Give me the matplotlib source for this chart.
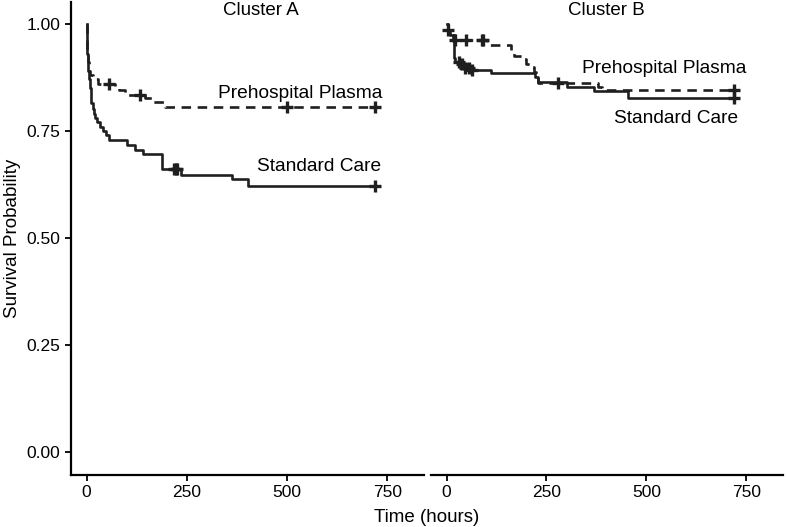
import matplotlib
matplotlib.use("Agg")
import matplotlib.pyplot as plt

plt.rcParams["font.family"] = ["Liberation Sans", "DejaVu Sans"]

# --- Cluster A ---
a_std_t = [0, 1, 2, 3, 4, 6, 8, 10, 12, 15, 18, 22, 27, 33, 40, 48, 57,
           102, 120, 140, 187, 235, 362, 402, 720]
a_std_s = [1.0, 0.96, 0.93, 0.91, 0.89, 0.87, 0.85, 0.83, 0.815, 0.80, 0.79,
           0.78, 0.77, 0.76, 0.75, 0.74, 0.729, 0.717, 0.705, 0.697, 0.66,
           0.648, 0.637, 0.622, 0.622]
a_std_cens_t = [218, 222, 226, 720]
a_std_cens_s = [0.66, 0.66, 0.66, 0.622]

a_pla_t = [0, 1, 2, 3, 5, 8, 15, 28, 70, 82, 95, 145, 162, 195, 720]
a_pla_s = [1.0, 0.96, 0.93, 0.91, 0.89, 0.88, 0.87, 0.86, 0.855, 0.845,
           0.833, 0.826, 0.817, 0.806, 0.806]
a_pla_cens_t = [57, 133, 500, 720]
a_pla_cens_s = [0.86, 0.833, 0.806, 0.806]

# --- Cluster B ---
b_std_t = [0, 3, 8, 15, 18, 22, 35, 50, 65, 110, 222, 230, 302, 370, 455, 720]
b_std_s = [1.0, 0.985, 0.975, 0.96, 0.92, 0.91, 0.905, 0.897, 0.891, 0.884,
           0.875, 0.863, 0.852, 0.843, 0.826, 0.826]
b_std_cens_t = [30, 38, 45, 55, 63, 720]
b_std_cens_s = [0.91, 0.905, 0.897, 0.897, 0.891, 0.826]

b_pla_t = [0, 3, 10, 22, 100, 160, 168, 188, 198, 210, 220, 225, 230, 378,
           390, 720]
b_pla_s = [1.0, 0.985, 0.975, 0.963, 0.951, 0.935, 0.926, 0.917, 0.907,
           0.898, 0.887, 0.875, 0.861, 0.852, 0.845, 0.845]
b_pla_cens_t = [3, 20, 48, 88, 92, 278, 720]
b_pla_cens_s = [0.985, 0.963, 0.963, 0.963, 0.963, 0.861, 0.845]

xticks = [0, 250, 500, 750]
yticks = [0.00, 0.25, 0.50, 0.75, 1.00]

LW = 1.9
DASH = (3.6, 2.5)
INK = "#1f1f1f"


def draw(ax, std, pla, std_c, pla_c):
    ax.step(std[0], std[1], where="post", color=INK, lw=LW)
    ax.step(pla[0], pla[1], where="post", color=INK, lw=LW,
            linestyle=(0, DASH))
    ax.plot(std_c[0], std_c[1], "+", color=INK, ms=8.5, mew=2.4)
    ax.plot(pla_c[0], pla_c[1], "+", color=INK, ms=8.5, mew=2.4)
    ax.set_xlim(-39, 842)
    ax.set_ylim(-0.054, 1.051)
    ax.set_xticks(xticks)
    ax.set_xticklabels([str(v) for v in xticks])
    for s in ["top", "right"]:
        ax.spines[s].set_visible(False)
    ax.spines["bottom"].set_linewidth(1.6)
    ax.spines["left"].set_linewidth(1.6)
    ax.tick_params(labelsize=12.5, length=4, width=1.3, colors="black")


fig = plt.figure(figsize=(7.86, 5.27), dpi=100)
ax1 = fig.add_axes([71 / 786, 52 / 527, 353 / 786, 473 / 527])
ax2 = fig.add_axes([431 / 786, 52 / 527, 352 / 786, 473 / 527])

draw(ax1, (a_std_t, a_std_s), (a_pla_t, a_pla_s),
     (a_std_cens_t, a_std_cens_s), (a_pla_cens_t, a_pla_cens_s))
draw(ax2, (b_std_t, b_std_s), (b_pla_t, b_pla_s),
     (b_std_cens_t, b_std_cens_s), (b_pla_cens_t, b_pla_cens_s))

ax1.set_yticks(yticks)
ax1.set_yticklabels([f"{v:.2f}" for v in yticks])
ax1.set_ylabel("Survival Probability", fontsize=13.5)
ax2.spines["left"].set_visible(False)
ax2.set_yticks([])

ax1.text(0.538, 0.982, "Cluster A", transform=ax1.transAxes, ha="center",
         va="center", fontsize=13.5)
ax2.text(0.497, 0.982, "Cluster B", transform=ax2.transAxes, ha="center",
         va="center", fontsize=13.5)

ax1.text(532, 0.838, "Prehospital Plasma", ha="center", va="center",
         fontsize=13.8)
ax1.text(580, 0.667, "Standard Care", ha="center", va="center", fontsize=13.8)
ax2.text(545, 0.896, "Prehospital Plasma", ha="center", va="center",
         fontsize=13.8)
ax2.text(575, 0.78, "Standard Care", ha="center", va="center", fontsize=13.8)

fig.text(427 / 786, 10 / 527, "Time (hours)", ha="center", va="center",
         fontsize=13.5)

fig.savefig("out.png", dpi=100)
